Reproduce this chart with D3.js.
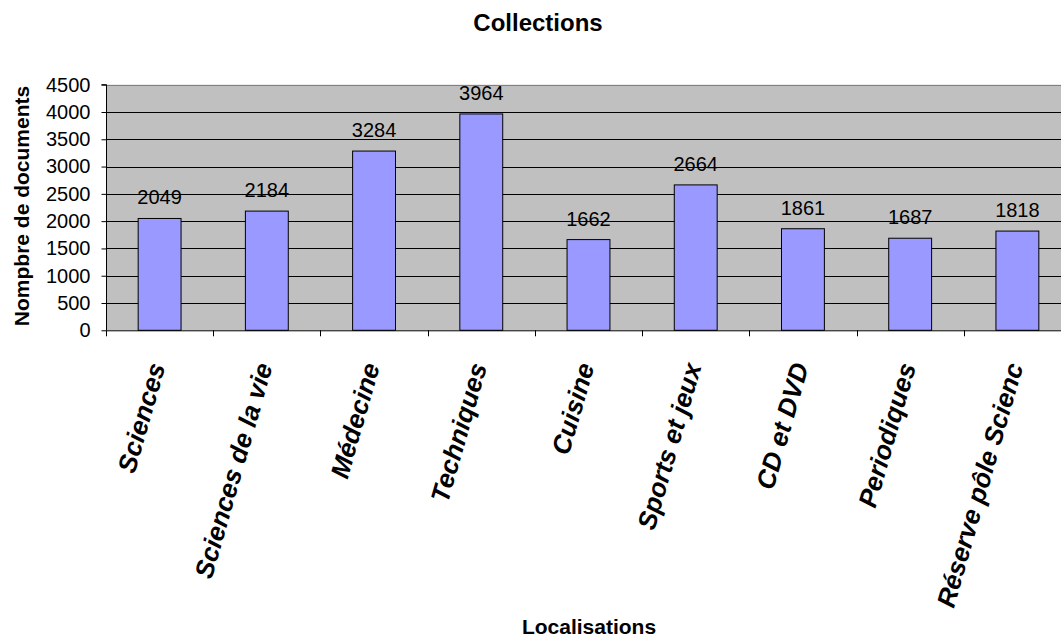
<!DOCTYPE html>
<html>
<head>
<meta charset="utf-8">
<script src="https://cdn.jsdelivr.net/npm/d3@7"></script>
<style>
  html, body { margin: 0; padding: 0; background: #fff; }
  svg { display: block; font-family: Arial, "Liberation Sans", sans-serif; }
</style>
</head>
<body>
<svg id="chart" width="1061" height="639"></svg>
<script>
const categories = ["Sciences", "Sciences de la vie", "Médecine", "Techniques", "Cuisine", "Sports et jeux", "CD et DVD", "Periodiques", "Réserve pôle Scienc"];
const values = [2049, 2184, 3284, 3964, 1662, 2664, 1861, 1687, 1818];
const yTicks = [0, 500, 1000, 1500, 2000, 2500, 3000, 3500, 4000, 4500];
const chartTitle = "Collections";
const xTitle = "Localisations";
const yTitle = "Nompbre de documents";

const svg = d3.select("#chart");
const pLeft = 106, pRight = 1071, pTop = 84.7, pBottom = 330.3;

const x = d3.scaleBand().domain(categories).range([pLeft, pRight]).paddingInner(0).paddingOuter(0);
const y = d3.scaleLinear().domain([0, 4500]).range([pBottom, pTop]);

// plot background
svg.append("rect").attr("x", pLeft).attr("y", pTop).attr("width", pRight - pLeft).attr("height", pBottom - pTop)
  .attr("fill", "#C0C0C0");

// gridlines
svg.append("g").selectAll("line").data(yTicks.filter(d => d > 0)).join("line")
  .attr("x1", pLeft).attr("x2", pRight)
  .attr("y1", d => Math.round(y(d)) + 0.5).attr("y2", d => Math.round(y(d)) + 0.5)
  .attr("stroke", d => d === 4500 ? "#808080" : "#000").attr("stroke-width", 1);

// bars
const bw = x.bandwidth() * 0.4;
svg.append("g").selectAll("rect").data(values).join("rect")
  .attr("x", (d, i) => x(categories[i]) + x.bandwidth() / 2 - bw / 2)
  .attr("y", d => y(d))
  .attr("width", bw)
  .attr("height", d => y(0) - y(d))
  .attr("fill", "#9999FF").attr("stroke", "#000").attr("stroke-width", 1);

// data labels
svg.append("g").selectAll("text").data(values).join("text")
  .attr("x", (d, i) => x(categories[i]) + x.bandwidth() / 2)
  .attr("y", d => y(d) - 14)
  .attr("text-anchor", "middle").attr("font-size", 20).attr("fill", "#000")
  .text(d => d);

// y axis
const yAxis = d3.axisLeft(y).tickValues(yTicks).tickSize(5).tickPadding(11).tickFormat(d3.format("d"));
const gy = svg.append("g").attr("transform", `translate(${pLeft + 0.5},0)`).call(yAxis);
gy.select(".domain").attr("d", `M-5,${y(4500)}H0V${y(0)}`).attr("stroke", "#000");
gy.selectAll(".tick text").attr("font-size", 20).attr("font-family", "Arial, 'Liberation Sans', sans-serif").attr("fill", "#000");
gy.selectAll(".tick line").attr("stroke", "#000");

// x axis: ticks at band boundaries
const xAxisG = svg.append("g");
xAxisG.append("line").attr("x1", pLeft).attr("x2", pRight).attr("y1", pBottom + 0.5).attr("y2", pBottom + 0.5).attr("stroke", "#000");
const boundaries = categories.map(c => x(c)).concat([pRight]);
xAxisG.selectAll("line.tk").data(boundaries).join("line").attr("class", "tk")
  .attr("x1", d => Math.round(d) + 0.5).attr("x2", d => Math.round(d) + 0.5)
  .attr("y1", pBottom).attr("y2", pBottom + 6).attr("stroke", "#000");

// category labels
svg.append("g").selectAll("text").data(categories).join("text")
  .attr("transform", d => `translate(${x(d) + x.bandwidth() / 2 + 6},366) rotate(-74)`)
  .attr("text-anchor", "end")
  .attr("font-size", 26).attr("font-weight", "bold").attr("font-style", "italic").attr("fill", "#000")
  .text(d => d);

// titles
svg.append("text").attr("x", 538).attr("y", 31).attr("text-anchor", "middle")
  .attr("font-size", 24).attr("font-weight", "bold").text(chartTitle);
svg.append("text").attr("x", 589).attr("y", 634).attr("text-anchor", "middle")
  .attr("font-size", 21).attr("font-weight", "bold").text(xTitle);
svg.append("text").attr("transform", "translate(29,206) rotate(-90)").attr("text-anchor", "middle")
  .attr("font-size", 21).attr("font-weight", "bold").text(yTitle);
</script>
</body>
</html>
